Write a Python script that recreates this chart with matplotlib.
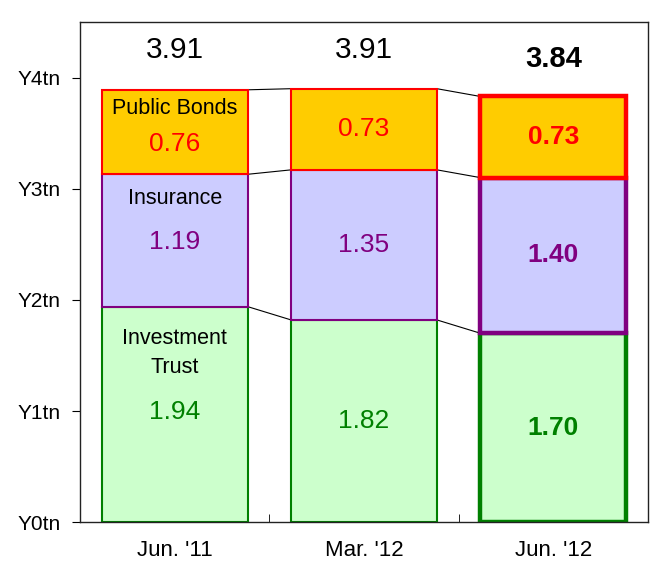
import numpy as np
import matplotlib
matplotlib.use("Agg")
import matplotlib.pyplot as plt

plt.rcParams['font.family'] = ['Liberation Sans', 'DejaVu Sans']

# data (trillion yen)
periods = ["Jun. '11", "Mar. '12", "Jun. '12"]
invest_trust = [1.94, 1.82, 1.70]
insurance = [1.19, 1.35, 1.40]
public_bonds = [0.76, 0.73, 0.73]
totals = ["3.91", "3.91", "3.84"]
y_ticks = [0, 1, 2, 3, 4]
y_labels = ["Y0tn", "Y1tn", "Y2tn", "Y3tn", "Y4tn"]

segments = [
    ("Investment\nTrust", invest_trust, "#CCFFCC", "#008000"),
    ("Insurance", insurance, "#CCCCFF", "#800080"),
    ("Public Bonds", public_bonds, "#FFCC00", "#FF0000"),
]

fig = plt.figure(figsize=(6.5, 5.64), dpi=100)
ax = fig.add_axes([0.123, 0.074, 0.874, 0.887])

x = np.arange(len(periods))
w = 0.77
bottom = np.zeros(len(periods))
tops = []
for name, vals, fc, ec in segments:
    vals = np.array(vals)
    for i in range(len(periods)):
        lw = 3.2 if i == 2 else 1.5
        ax.bar(x[i], vals[i], w, bottom=bottom[i], color=fc, edgecolor=ec,
               linewidth=lw, zorder=2)
        mid = bottom[i] + vals[i] / 2
        if i == 0:
            # first bar carries the category name
            if name == "Investment\nTrust":
                ax.text(x[i], bottom[i] + vals[i] - 0.42, name, ha='center', va='center',
                        fontsize=15.5, linespacing=1.5)
                ax.text(x[i], 0.99, f"{vals[i]:.2f}", ha='center', va='center',
                        fontsize=19, color=ec)
            elif name == "Insurance":
                ax.text(x[i], bottom[i] + vals[i] - 0.22, name, ha='center', va='center',
                        fontsize=15.5)
                ax.text(x[i], mid - 0.01, f"{vals[i]:.2f}", ha='center', va='center',
                        fontsize=19, color=ec)
            else:
                ax.text(x[i], bottom[i] + vals[i] - 0.17, name, ha='center', va='center',
                        fontsize=15.5)
                ax.text(x[i], mid - 0.11, f"{vals[i]:.2f}", ha='center', va='center',
                        fontsize=19, color=ec)
        else:
            ax.text(x[i], mid, f"{vals[i]:.2f}", ha='center', va='center',
                    fontsize=19, color=ec, fontweight='bold' if i == 2 else 'normal')
    bottom = bottom + vals
    tops.append(bottom.copy())

# connector lines between bars
for t in tops:
    for i in range(len(periods) - 1):
        ax.plot([x[i] + w / 2, x[i + 1] - w / 2], [t[i], t[i + 1]], color='black',
                linewidth=0.8, zorder=1)

for i, t in enumerate(totals):
    ax.text(x[i], 4.25 if i < 2 else 4.17, t, ha='center', va='center',
            fontsize=21.5 if i < 2 else 21,
            fontweight='bold' if i == 2 else 'normal')

ax.set_xlim(-0.5, 2.5)
ax.set_ylim(0, 4.5)
ax.set_yticks(y_ticks)
ax.set_yticklabels(y_labels, fontsize=15)
ax.set_xticks(x)
ax.set_xticklabels(periods, fontsize=16)
ax.set_xticks([0.5, 1.5], minor=True)
ax.tick_params(axis='x', which='major', length=0, pad=13)
ax.tick_params(axis='x', which='minor', length=6, direction='in')
ax.tick_params(axis='y', length=6, pad=8)
for s in ax.spines.values():
    s.set_linewidth(1.0)
    s.set_color('#222222')

fig.savefig("out.png", dpi=100)
